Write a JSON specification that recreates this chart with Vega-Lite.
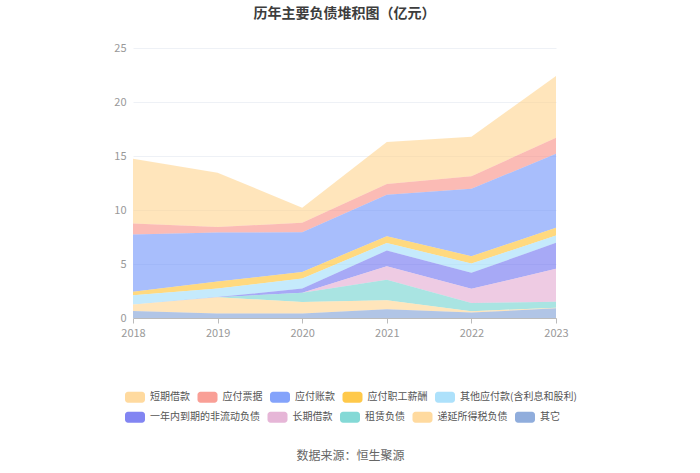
{
  "$schema": "https://vega.github.io/schema/vega-lite/v6.json",
  "description": "历年主要负债堆积图（亿元）",
  "autosize": "none",
  "width": 423,
  "height": 270,
  "padding": {"left": 133, "top": 48, "right": 144, "bottom": 155},
  "background": "#ffffff",
  "config": {
    "font": "Noto Sans CJK SC",
    "view": {"stroke": null},
    "legend": {
      "orient": "none",
      "direction": "horizontal",
      "title": null,
      "symbolType": "M-0.7,-0.55h1.4a0.3,0.3 0 0 1 0.3,0.3v0.5a0.3,0.3 0 0 1 -0.3,0.3h-1.4a0.3,0.3 0 0 1 -0.3,-0.3v-0.5a0.3,0.3 0 0 1 0.3,-0.3z",
      "symbolSize": 400,
      "symbolOpacity": 0.85,
      "symbolStrokeWidth": 0,
      "labelFontSize": 10,
      "labelColor": "#555555",
      "labelOffset": 5,
      "columnPadding": 7.5,
      "labelLimit": 200
    }
  },
  "title": {
    "text": "历年主要负债堆积图（亿元）",
    "anchor": "middle",
    "fontSize": 14,
    "fontWeight": "bold",
    "color": "#3d3d3d",
    "offset": 21
  },
  "data": {
    "values": [
      {"year": "2018", "item": "短期借款", "value": 6.0},
      {"year": "2018", "item": "应付票据", "value": 1.02},
      {"year": "2018", "item": "应付账款", "value": 5.3},
      {"year": "2018", "item": "应付职工薪酬", "value": 0.32},
      {"year": "2018", "item": "其他应付款(含利息和股利)", "value": 0.85},
      {"year": "2018", "item": "一年内到期的非流动负债", "value": 0},
      {"year": "2018", "item": "长期借款", "value": 0},
      {"year": "2018", "item": "租赁负债", "value": 0},
      {"year": "2018", "item": "递延所得税负债", "value": 0.6},
      {"year": "2018", "item": "其它", "value": 0.65},
      {"year": "2019", "item": "短期借款", "value": 5.03},
      {"year": "2019", "item": "应付票据", "value": 0.52},
      {"year": "2019", "item": "应付账款", "value": 4.54},
      {"year": "2019", "item": "应付职工薪酬", "value": 0.65},
      {"year": "2019", "item": "其他应付款(含利息和股利)", "value": 0.78},
      {"year": "2019", "item": "一年内到期的非流动负债", "value": 0.02},
      {"year": "2019", "item": "长期借款", "value": 0},
      {"year": "2019", "item": "租赁负债", "value": 0},
      {"year": "2019", "item": "递延所得税负债", "value": 1.5},
      {"year": "2019", "item": "其它", "value": 0.42},
      {"year": "2020", "item": "短期借款", "value": 1.4},
      {"year": "2020", "item": "应付票据", "value": 0.86},
      {"year": "2020", "item": "应付账款", "value": 3.68},
      {"year": "2020", "item": "应付职工薪酬", "value": 0.61},
      {"year": "2020", "item": "其他应付款(含利息和股利)", "value": 0.93},
      {"year": "2020", "item": "一年内到期的非流动负债", "value": 0.4},
      {"year": "2020", "item": "长期借款", "value": 0},
      {"year": "2020", "item": "租赁负债", "value": 0.86},
      {"year": "2020", "item": "递延所得税负债", "value": 1.05},
      {"year": "2020", "item": "其它", "value": 0.42},
      {"year": "2021", "item": "短期借款", "value": 3.9},
      {"year": "2021", "item": "应付票据", "value": 0.98},
      {"year": "2021", "item": "应付账款", "value": 3.85},
      {"year": "2021", "item": "应付职工薪酬", "value": 0.62},
      {"year": "2021", "item": "其他应付款(含利息和股利)", "value": 0.7},
      {"year": "2021", "item": "一年内到期的非流动负债", "value": 1.45},
      {"year": "2021", "item": "长期借款", "value": 1.25},
      {"year": "2021", "item": "租赁负债", "value": 1.9},
      {"year": "2021", "item": "递延所得税负债", "value": 0.85},
      {"year": "2021", "item": "其它", "value": 0.8},
      {"year": "2022", "item": "短期借款", "value": 3.65},
      {"year": "2022", "item": "应付票据", "value": 1.17},
      {"year": "2022", "item": "应付账款", "value": 6.24},
      {"year": "2022", "item": "应付职工薪酬", "value": 0.68},
      {"year": "2022", "item": "其他应付款(含利息和股利)", "value": 0.86},
      {"year": "2022", "item": "一年内到期的非流动负债", "value": 1.48},
      {"year": "2022", "item": "长期借款", "value": 1.3},
      {"year": "2022", "item": "租赁负债", "value": 0.77},
      {"year": "2022", "item": "递延所得税负债", "value": 0.13},
      {"year": "2022", "item": "其它", "value": 0.5},
      {"year": "2023", "item": "短期借款", "value": 5.72},
      {"year": "2023", "item": "应付票据", "value": 1.48},
      {"year": "2023", "item": "应付账款", "value": 6.85},
      {"year": "2023", "item": "应付职工薪酬", "value": 0.71},
      {"year": "2023", "item": "其他应付款(含利息和股利)", "value": 0.68},
      {"year": "2023", "item": "一年内到期的非流动负债", "value": 2.41},
      {"year": "2023", "item": "长期借款", "value": 3.05},
      {"year": "2023", "item": "租赁负债", "value": 0.55},
      {"year": "2023", "item": "递延所得税负债", "value": 0.05},
      {"year": "2023", "item": "其它", "value": 0.9}
    ]
  },
  "transform": [
    {
      "calculate": "indexof(['短期借款','应付票据','应付账款','应付职工薪酬','其他应付款(含利息和股利)','一年内到期的非流动负债','长期借款','租赁负债','递延所得税负债','其它'], datum.item)",
      "as": "rank"
    },
    {
      "stack": "value",
      "groupby": ["year"],
      "sort": [{"field": "rank", "order": "descending"}],
      "as": ["v0", "v1"]
    }
  ],
  "encoding": {
    "x": {
      "field": "year",
      "type": "ordinal",
      "scale": {"type": "point", "padding": 0},
      "axis": {
        "labelAngle": 0,
        "labelColor": "#999999",
        "labelFontSize": 11,
        "labelPadding": 4,
        "domainColor": "#bbbbbb",
        "tickColor": "#bbbbbb",
        "tickSize": 5,
        "grid": false,
        "title": "数据来源：恒生聚源",
        "titleFontSize": 12,
        "titleFontWeight": "normal",
        "titleColor": "#666666",
        "titlePadding": 112,
        "titleX": 217
      }
    },
    "y": {
      "field": "v1",
      "type": "quantitative",
      "scale": {"domain": [0, 25]},
      "axis": {
        "values": [0, 5, 10, 15, 20, 25],
        "title": null,
        "domain": false,
        "ticks": false,
        "labelColor": "#999999",
        "labelFontSize": 11,
        "labelPadding": 7,
        "gridColor": "#eef1f6",
        "gridWidth": 1
      }
    },
    "y2": {"field": "v0"},
    "tooltip": [
      {"field": "year", "type": "nominal", "title": "年份"},
      {"field": "item", "type": "nominal", "title": "项目"},
      {"field": "value", "type": "quantitative", "title": "亿元"}
    ]
  },
  "layer": [
    {
      "transform": [{"filter": "datum.rank < 5"}],
      "mark": {"type": "area", "fillOpacity": 0.6, "strokeWidth": 0},
      "encoding": {
        "color": {
          "field": "item",
          "type": "nominal",
          "scale": {
            "domain": ["短期借款", "应付票据", "应付账款", "应付职工薪酬", "其他应付款(含利息和股利)"],
            "range": ["#ffd38e", "#f88e84", "#6e93fa", "#ffbf2a", "#9fdcfa"]
          },
          "legend": {"legendX": -8, "legendY": 339}
        }
      }
    },
    {
      "transform": [{"filter": "datum.rank >= 5"}],
      "mark": {"type": "area", "fillOpacity": 0.6, "strokeWidth": 0},
      "encoding": {
        "color": {
          "field": "item",
          "type": "nominal",
          "scale": {
            "domain": ["一年内到期的非流动负债", "长期借款", "租赁负债", "递延所得税负债", "其它"],
            "range": ["#6c70f0", "#e2a9d0", "#6fd2cf", "#ffd38e", "#7d9fd6"]
          },
          "legend": {"legendX": -8, "legendY": 359}
        }
      }
    }
  ],
  "resolve": {"scale": {"color": "independent"}, "legend": {"color": "independent"}}
}
